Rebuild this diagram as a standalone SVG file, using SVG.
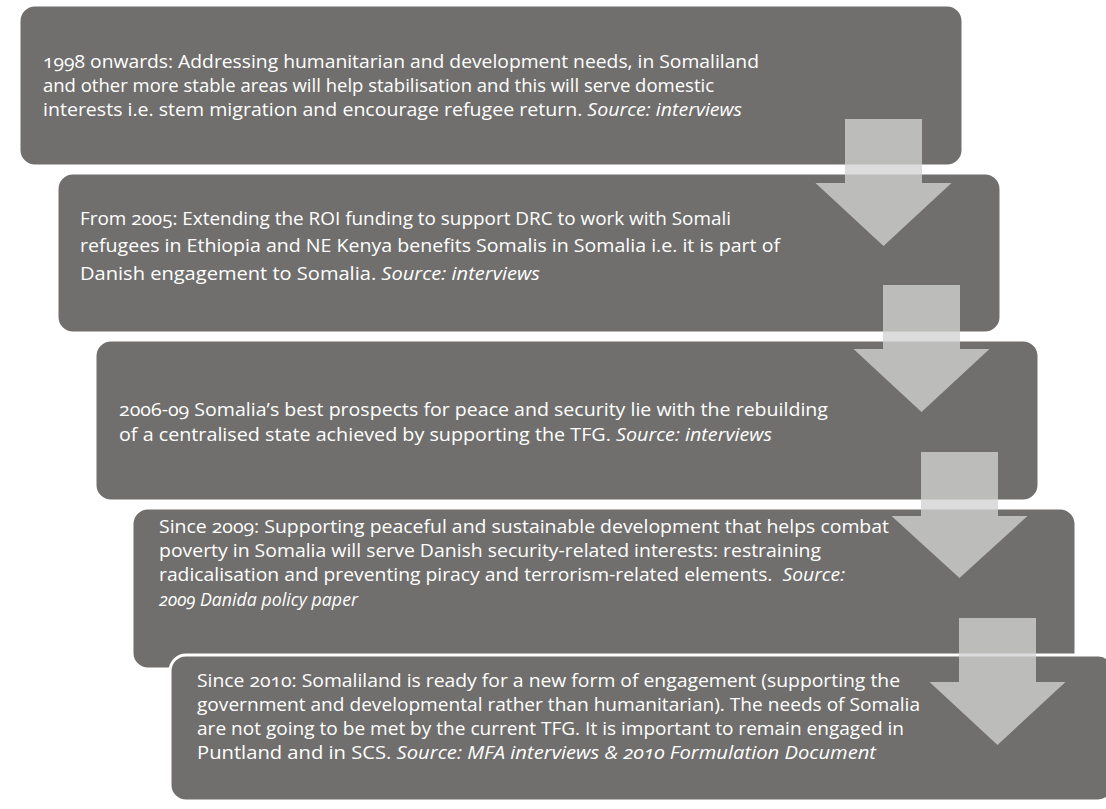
<svg xmlns="http://www.w3.org/2000/svg" width="1106" height="809" viewBox="0 0 1106 809">
<style>
.box{fill:#706f6d;stroke:#ffffff;stroke-width:3}
.t{font-family:"Open Sans","Noto Sans","Liberation Sans",sans-serif;font-size:18px;fill:#ffffff;font-variant-numeric:oldstyle-nums}
.i{font-style:italic}
.arrow{fill:#d2d2d2;fill-opacity:0.776}
</style>
<rect width="1106" height="809" fill="#ffffff"/>
<g id="node1">
<rect class="box" x="19" y="5" width="944" height="161" rx="16"/>
<text class="t" x="43" y="68" textLength="716" lengthAdjust="spacingAndGlyphs">1998 onwards: Addressing humanitarian and development needs, in Somaliland</text>
<text class="t" x="43" y="92" textLength="671" lengthAdjust="spacingAndGlyphs">and other more stable areas will help stabilisation and this will serve domestic</text>
<text class="t" x="43" y="116" textLength="699" lengthAdjust="spacingAndGlyphs">interests i.e. stem migration and encourage refugee return. <tspan class="i">Source: interviews</tspan></text>
</g>
<g id="node2">
<rect class="box" x="57" y="173" width="944" height="160" rx="16"/>
<text class="t" x="80" y="225" textLength="651" lengthAdjust="spacingAndGlyphs">From 2005: Extending the ROI funding to support DRC to work with Somali</text>
<text class="t" x="80" y="252" textLength="700" lengthAdjust="spacingAndGlyphs">refugees in Ethiopia and NE Kenya benefits Somalis in Somalia i.e. it is part of</text>
<text class="t" x="80" y="280" textLength="460" lengthAdjust="spacingAndGlyphs">Danish engagement to Somalia. <tspan class="i">Source: interviews</tspan></text>
</g>
<g id="node3">
<rect class="box" x="95" y="340" width="944" height="161" rx="16"/>
<text class="t" x="119" y="416" textLength="709" lengthAdjust="spacingAndGlyphs">2006-09 Somalia’s best prospects for peace and security lie with the rebuilding</text>
<text class="t" x="119" y="441" textLength="653" lengthAdjust="spacingAndGlyphs">of a centralised state achieved by supporting the TFG. <tspan class="i">Source: interviews</tspan></text>
</g>
<g id="node4">
<rect class="box" x="132" y="508" width="944" height="161" rx="16"/>
<text class="t" x="159" y="533" textLength="730" lengthAdjust="spacingAndGlyphs">Since 2009: Supporting peaceful and sustainable development that helps combat</text>
<text class="t" x="159" y="557" textLength="662" lengthAdjust="spacingAndGlyphs">poverty in Somalia will serve Danish security-related interests: restraining</text>
<text class="t" x="159" y="581" textLength="686" lengthAdjust="spacingAndGlyphs" xml:space="preserve">radicalisation and preventing piracy and terrorism-related elements.  <tspan class="i">Source:</tspan></text>
<text class="t i" x="159" y="606" textLength="199" lengthAdjust="spacingAndGlyphs">2009 Danida policy paper</text>
</g>
<g id="node5">
<rect class="box" x="170" y="655" width="944" height="146" rx="16"/>
<text class="t" x="197" y="687" textLength="703" lengthAdjust="spacingAndGlyphs">Since 2010: Somaliland is ready for a new form of engagement (supporting the</text>
<text class="t" x="197" y="711" textLength="723" lengthAdjust="spacingAndGlyphs">government and developmental rather than humanitarian). The needs of Somalia</text>
<text class="t" x="197" y="735" textLength="707" lengthAdjust="spacingAndGlyphs">are not going to be met by the current TFG. It is important to remain engaged in</text>
<text class="t" x="197" y="759" textLength="679" lengthAdjust="spacingAndGlyphs">Puntland and in SCS. <tspan class="i">Source: MFA interviews &amp; 2010 Formulation Document</tspan></text>
</g>
<g id="connectors">
<path class="arrow" d="M845,119 H922 V183 H951.5 L883.5,246 L815.5,183 H845 Z"/>
<path class="arrow" d="M883,285 H960 V349 H989.5 L921.5,412 L853.5,349 H883 Z"/>
<path class="arrow" d="M921,452 H998 V516 H1027.5 L959.5,578 L891.5,516 H921 Z"/>
<path class="arrow" d="M959,618 H1036 V682 H1065.5 L997.5,745 L929.5,682 H959 Z"/>
</g>
</svg>
